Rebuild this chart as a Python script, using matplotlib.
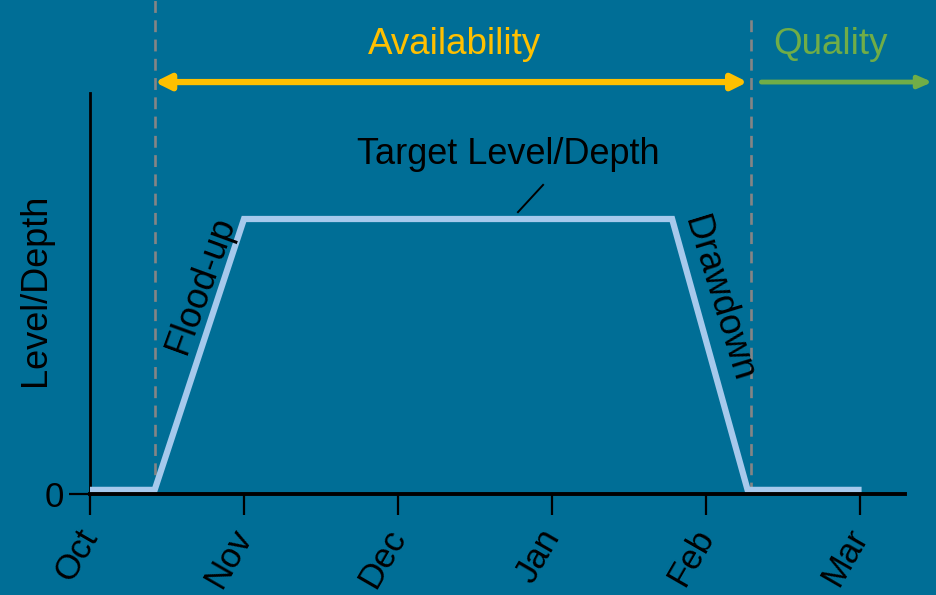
import matplotlib
matplotlib.use("Agg")
import matplotlib.pyplot as plt

months = ["Oct", "Nov", "Dec", "Jan", "Feb", "Mar"]
month_pos = [0, 1, 2, 3, 4, 5]
level_x = [0.0, 0.42, 1.0, 3.78, 4.27, 4.99]
level_y = [0.015, 0.015, 1.0, 1.0, 0.015, 0.015]
avail_start, avail_end = 0.42, 4.29

BG = "#006E96"
LINE = "#A6C9EC"
YELLOW = "#FFC000"
GREEN = "#70AD47"
GREY = "#858585"

plt.rcParams["font.family"] = ["Liberation Sans", "DejaVu Sans"]

W, H = 936, 595
fig = plt.figure(figsize=(W / 100, H / 100), dpi=100)
fig.patch.set_facecolor(BG)
x0, x1, y0 = 90, 905, 494
ax = fig.add_axes([x0 / W, 1 - y0 / H, (x1 - x0) / W, y0 / H])
ax.set_facecolor(BG)
px_per_month = 154
px_per_unit = 275
ax.set_xlim(0, (x1 - x0) / px_per_month)
ax.set_ylim(0, y0 / px_per_unit)

for s in ["top", "right"]:
    ax.spines[s].set_visible(False)
ax.spines["bottom"].set_linewidth(2.8)
ax.spines["left"].set_linewidth(2.0)
ax.spines["left"].set_bounds(0, (494 - 93) / px_per_unit)
ax.spines["bottom"].set_zorder(5)

ax.set_xticks(month_pos)
ax.set_xticklabels(months, rotation=60, ha="right", va="center", rotation_mode="anchor", fontsize=25)
ax.set_yticks([0])
ax.set_yticklabels(["0"], fontsize=25)
ax.tick_params(axis="x", length=15, width=1.6, direction="out", pad=12)
ax.tick_params(axis="y", length=15, width=1.6, direction="out", pad=4)
ax.set_ylabel("Level/Depth", fontsize=26)
ax.yaxis.set_label_coords(-0.046, 0.413)

# dashed boundaries
dash_tops = [y0 / px_per_unit, (y0 - 15) / px_per_unit]
for xv, yt in zip([avail_start, avail_end], dash_tops):
    ax.plot([xv, xv], [0, yt], color=GREY, lw=1.9, ls=(0, (4.5, 2.8)), zorder=1, clip_on=False)

ax.plot(level_x, level_y, color=LINE, lw=4.5, solid_joinstyle="miter", zorder=3)

# arrows
ay = 1.498
ax.annotate("", xy=(avail_end - 0.02, ay), xytext=(avail_start, ay),
            arrowprops=dict(arrowstyle="<|-|>,head_length=0.9,head_width=0.45", color=YELLOW, lw=4.5,
                            shrinkA=0, shrinkB=0), annotation_clip=False)
ax.annotate("", xy=(5.47, ay), xytext=(4.36, ay),
            arrowprops=dict(arrowstyle="-|>,head_length=0.8,head_width=0.35", color=GREEN, lw=3.5,
                            shrinkA=0, shrinkB=0), annotation_clip=False)
ax.text(2.37, 1.636, "Availability", color=YELLOW, fontsize=26.5, ha="center", va="center")
ax.text(4.805, 1.636, "Quality", color=GREEN, fontsize=26.5, ha="center", va="center")

ax.text(2.714, 1.235, "Target Level/Depth", fontsize=26, ha="center", va="center", color="black")
ax.plot([2.779, 2.942], [1.025, 1.124], color="black", lw=1.4)
ax.text(0.72, 0.76, "Flood-up", fontsize=26, rotation=70, ha="center", va="center", color="black")
ax.text(4.08, 0.71, "Drawdown", fontsize=26, rotation=-73, ha="center", va="center", color="black")

fig.savefig("out.png", dpi=100, facecolor=BG)
